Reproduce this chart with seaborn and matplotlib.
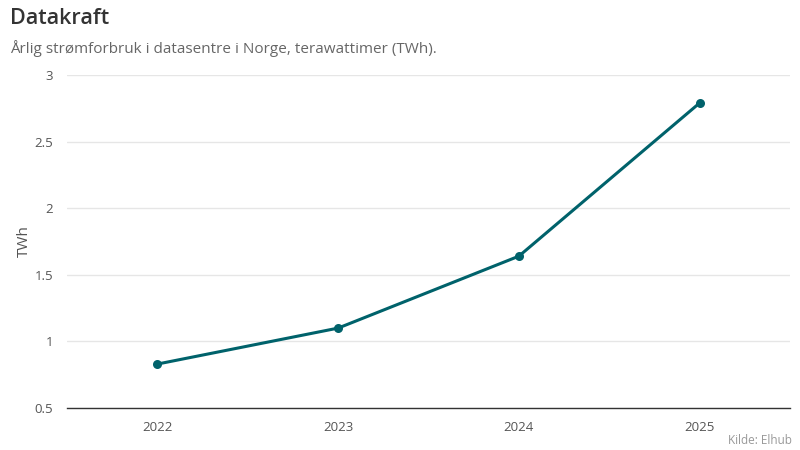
import matplotlib
matplotlib.use("Agg")
import matplotlib.pyplot as plt
import pandas as pd
import seaborn as sns

years = ["2022", "2023", "2024", "2025"]
twh = [0.83, 1.10, 1.64, 2.79]
y_ticks = [0.5, 1, 1.5, 2, 2.5, 3]
y_tick_labels = ["0.5", "1", "1.5", "2", "2.5", "3"]

line_color = "#00626b"

df = pd.DataFrame({"year": years, "twh": twh})

sns.set_theme(style="white")
plt.rcParams["font.family"] = ["Open Sans", "DejaVu Sans"]

fig = plt.figure(figsize=(8, 4.5), dpi=100)
ax = fig.add_axes([0.08375, 0.0933, 0.90375, 0.74])

sns.lineplot(data=df, x="year", y="twh", color=line_color, linewidth=2.2,
             marker="o", markersize=6.5, markeredgewidth=0, ax=ax)

ax.set_xlim(-0.5, len(years) - 0.5)
ax.set_ylim(0.5, 3)
ax.set_yticks(y_ticks)
ax.set_yticklabels(y_tick_labels)
ax.yaxis.grid(True, color="#e6e6e6", linewidth=1)
ax.set_axisbelow(True)

# only the bottom axis line
sns.despine(ax=ax, left=True, top=True, right=True, bottom=False)
ax.spines["bottom"].set_color("#333333")
ax.spines["bottom"].set_linewidth(1)

ax.tick_params(axis="both", length=0, labelsize=9.5, labelcolor="#555555")
ax.tick_params(axis="x", pad=9)
ax.tick_params(axis="y", pad=10)
ax.set_xlabel("")
ax.set_ylabel("TWh", fontsize=11, color="#555555", labelpad=2)

fig.text(0.0125, 0.958, "Datakraft", fontsize=15.5, fontweight="semibold",
         color="#333333", va="center", ha="left")
fig.text(0.0125, 0.893, "Årlig strømforbruk i datasentre i Norge, terawattimer (TWh).",
         fontsize=11, color="#666666", va="center", ha="left")
fig.text(0.99, 0.022, "Kilde: Elhub", fontsize=8.5, color="#999999",
         va="center", ha="right")

fig.savefig("out.png", dpi=100)
